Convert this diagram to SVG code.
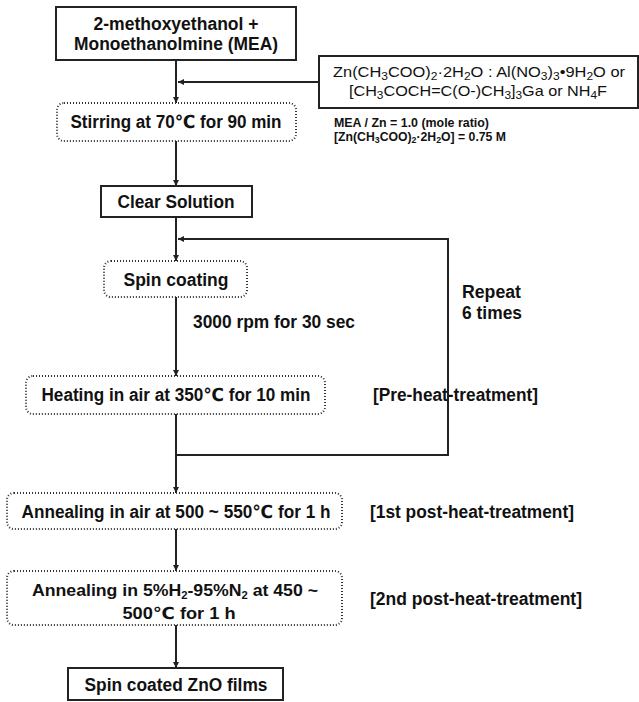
<svg xmlns="http://www.w3.org/2000/svg" width="639" height="702" viewBox="0 0 639 702">
<style>
text{font-family:"Liberation Sans",Arial,"DejaVu Sans",sans-serif;fill:#111}
.b{font-weight:bold;font-size:18px}
.b2{font-weight:bold;font-size:16.5px}
.c{text-anchor:middle}
.r{font-size:15px}
.s{font-weight:bold;font-size:12.5px}
.solid{fill:#fff;stroke:#222;stroke-width:2}
.dot{fill:#fff;stroke:#333;stroke-width:2;stroke-dasharray:1 2}
.ln{fill:none;stroke:#222;stroke-width:2}
</style>
<defs>
<marker id="ah" viewBox="0 0 10 10" refX="10" refY="5" markerWidth="3" markerHeight="3" orient="auto" markerUnits="strokeWidth">
<path d="M0,0 L10,5 L0,10 z" fill="#222"/>
</marker>
</defs>
<rect width="639" height="702" fill="#fff"/>
<g id="connectors">
<path class="ln" d="M176,60 V103" marker-end="url(#ah)"/>
<path class="ln" d="M318,82 H178" marker-end="url(#ah)"/>
<path class="ln" d="M176,141 V186" marker-end="url(#ah)"/>
<path class="ln" d="M176,217 V261" marker-end="url(#ah)"/>
<path class="ln" d="M176,297 V376" marker-end="url(#ah)"/>
<path class="ln" d="M176,414 V493" marker-end="url(#ah)"/>
<path class="ln" d="M176,455 H448 V239 H178" marker-end="url(#ah)"/>
<path class="ln" d="M176,529 V571" marker-end="url(#ah)"/>
<path class="ln" d="M176,625 V668" marker-end="url(#ah)"/>
</g>
<g id="n1">
<rect class="solid" x="56" y="7" width="240" height="53"/>
<text class="b c" x="176" y="30" textLength="165" lengthAdjust="spacingAndGlyphs">2-methoxyethanol +</text>
<text class="b c" x="176" y="50" textLength="204" lengthAdjust="spacingAndGlyphs">Monoethanolmine (MEA)</text>
</g>
<g id="n2">
<rect class="solid" x="319" y="56" width="319" height="52"/>
<text class="r" x="333" y="77" textLength="292" lengthAdjust="spacingAndGlyphs">Zn(CH<tspan font-size="11" baseline-shift="-3">3</tspan>COO)<tspan font-size="11" baseline-shift="-3">2</tspan>·2H<tspan font-size="11" baseline-shift="-3">2</tspan>O : Al(NO<tspan font-size="11" baseline-shift="-3">3</tspan>)<tspan font-size="11" baseline-shift="-3">3</tspan>•9H<tspan font-size="11" baseline-shift="-3">2</tspan>O or</text>
<text class="r" x="349" y="96" textLength="258" lengthAdjust="spacingAndGlyphs">[CH<tspan font-size="11" baseline-shift="-3">3</tspan>COCH=C(O-)CH<tspan font-size="11" baseline-shift="-3">3</tspan>]<tspan font-size="11" baseline-shift="-3">3</tspan>Ga or NH<tspan font-size="11" baseline-shift="-3">4</tspan>F</text>
</g>
<g id="note">
<text class="s" x="334" y="127" textLength="155" lengthAdjust="spacingAndGlyphs">MEA / Zn = 1.0 (mole ratio)</text>
<text class="s" x="334" y="141" textLength="172" lengthAdjust="spacingAndGlyphs">[Zn(CH<tspan font-size="9" baseline-shift="-2">3</tspan>COO)<tspan font-size="9" baseline-shift="-2">2</tspan>·2H<tspan font-size="9" baseline-shift="-2">2</tspan>O] = 0.75 M</text>
</g>
<g id="n3">
<rect class="dot" x="57" y="103" width="239" height="38" rx="7"/>
<text class="b c" x="176" y="128" textLength="211" lengthAdjust="spacingAndGlyphs">Stirring at 70℃ for 90 min</text>
</g>
<g id="n4">
<rect class="solid" x="101" y="186" width="151" height="31"/>
<text class="b c" x="176" y="208" textLength="117" lengthAdjust="spacingAndGlyphs">Clear Solution</text>
</g>
<g id="n5">
<rect class="dot" x="104" y="261" width="143" height="36" rx="7"/>
<text class="b c" x="176" y="286" textLength="105" lengthAdjust="spacingAndGlyphs">Spin coating</text>
</g>
<g id="l1">
<text class="b" x="193" y="328" textLength="162" lengthAdjust="spacingAndGlyphs">3000 rpm for 30 sec</text>
</g>
<g id="l2">
<text class="b" x="462" y="298" textLength="59" lengthAdjust="spacingAndGlyphs">Repeat</text>
<text class="b" x="462" y="319" textLength="60" lengthAdjust="spacingAndGlyphs">6 times</text>
</g>
<g id="n6">
<rect class="dot" x="26" y="376" width="299" height="38" rx="7"/>
<text class="b c" x="176" y="401" textLength="269" lengthAdjust="spacingAndGlyphs">Heating in air at 350℃ for 10 min</text>
</g>
<g id="l3">
<text class="b" x="373" y="401" textLength="165" lengthAdjust="spacingAndGlyphs">[Pre-heat-treatment]</text>
</g>
<g id="n7">
<rect class="dot" x="7" y="493" width="335" height="36" rx="7"/>
<text class="b c" x="176" y="518" textLength="309" lengthAdjust="spacingAndGlyphs">Annealing in air at 500 ~ 550℃ for 1 h</text>
</g>
<g id="l4">
<text class="b" x="370" y="518" textLength="204" lengthAdjust="spacingAndGlyphs">[1st post-heat-treatment]</text>
</g>
<g id="n8">
<rect class="dot" x="7" y="571" width="335" height="54" rx="7"/>
<text class="b2" x="32" y="596" textLength="286" lengthAdjust="spacingAndGlyphs">Annealing in 5%H<tspan font-size="10.5" baseline-shift="-2.5">2</tspan>-95%N<tspan font-size="10.5" baseline-shift="-2.5">2</tspan>  at 450 ~</text>
<text class="b2 c" x="179" y="619" textLength="113" lengthAdjust="spacingAndGlyphs">500℃ for 1 h</text>
</g>
<g id="l5">
<text class="b" x="370" y="605" textLength="212" lengthAdjust="spacingAndGlyphs">[2nd post-heat-treatment]</text>
</g>
<g id="n9">
<rect class="solid" x="68" y="668" width="215" height="32"/>
<text class="b c" x="176" y="691" textLength="183" lengthAdjust="spacingAndGlyphs">Spin coated ZnO films</text>
</g>
</svg>
